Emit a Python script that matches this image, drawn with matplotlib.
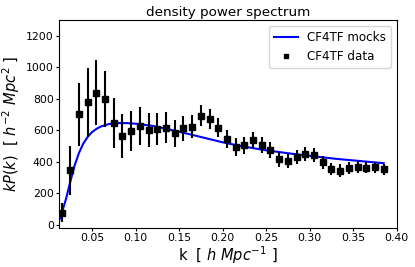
import matplotlib
matplotlib.use("Agg")
import matplotlib.pyplot as plt

# CF4TF data points
k_data = [0.015, 0.025, 0.035, 0.045, 0.055, 0.065, 0.075, 0.085, 0.095, 0.105,
          0.115, 0.125, 0.135, 0.145, 0.155, 0.165, 0.175, 0.185, 0.195, 0.205,
          0.215, 0.225, 0.235, 0.245, 0.255, 0.265, 0.275, 0.285, 0.295, 0.305,
          0.315, 0.325, 0.335, 0.345, 0.355, 0.365, 0.375, 0.385]
p_data = [76, 344, 702, 776, 838, 798, 644, 566, 595, 627,
          602, 610, 617, 581, 612, 623, 693, 670, 617, 544,
          491, 504, 538, 504, 474, 415, 404, 431, 449, 442,
          396, 353, 342, 357, 364, 361, 364, 353]
p_err = [60, 155, 200, 220, 205, 180, 158, 140, 125, 120,
         110, 102, 96, 85, 80, 75, 68, 64, 62, 60,
         58, 55, 53, 50, 48, 47, 45, 46, 46, 44,
         42, 40, 40, 38, 37, 36, 35, 35]

# CF4TF mocks curve
k_mock = [0.0125, 0.015, 0.02, 0.025, 0.03, 0.035, 0.04, 0.045, 0.05, 0.055,
          0.06, 0.07, 0.08, 0.09, 0.10, 0.12, 0.14, 0.16, 0.18, 0.20,
          0.22, 0.25, 0.28, 0.30, 0.33, 0.35, 0.385]
p_mock = [30, 70, 160, 270, 375, 455, 515, 557, 588, 608,
          623, 640, 645, 645, 641, 627, 603, 577, 550, 523,
          500, 472, 450, 437, 418, 408, 390]

fig = plt.figure(figsize=(4.15, 2.67), dpi=100)
ax = fig.add_axes([0.143, 0.147, 0.813, 0.778])

ax.plot(k_mock, p_mock, color='blue', lw=1.5, label='CF4TF mocks')
ax.errorbar(k_data, p_data, yerr=p_err, fmt='none', ecolor='black', elinewidth=1.5)
ax.plot(k_data, p_data, 's', color='black', ms=5, label='CF4TF data')

ax.set_xlim(0.0125, 0.40)
ax.set_ylim(-20, 1300)
ax.set_xticks([0.05, 0.10, 0.15, 0.20, 0.25, 0.30, 0.35, 0.40])
ax.set_xticklabels(['0.05', '0.10', '0.15', '0.20', '0.25', '0.30', '0.35', '0.40'])
ax.set_yticks([0, 200, 400, 600, 800, 1000, 1200])
ax.tick_params(labelsize=7.8, length=2, pad=2)

ax.set_title('density power spectrum', fontsize=9.7, pad=3)
ax.set_xlabel(r'k  [ $h\ Mpc^{-1}$ ]', fontsize=10.5, labelpad=1)
ax.set_ylabel(r'$kP(k)$  [ $h^{-2}\ Mpc^2$ ]', fontsize=10.5, labelpad=3)
ax.legend(loc='upper right', fontsize=8.6, markerscale=0.7)

fig.savefig('out.png', dpi=100)
